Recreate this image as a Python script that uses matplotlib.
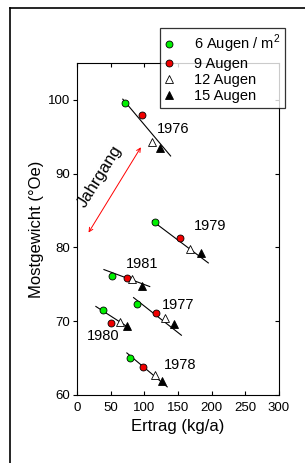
import matplotlib
matplotlib.use("Agg")
import matplotlib.pyplot as plt
from matplotlib.lines import Line2D

plt.rcParams['font.family'] = ['Liberation Sans', 'DejaVu Sans']
plt.rcParams['mathtext.fontset'] = 'custom'
plt.rcParams['mathtext.rm'] = 'Liberation Sans'

# Jahrgaenge und Messwerte (Ertrag kg/a, Mostgewicht Oe)
years = ['1976', '1977', '1978', '1979', '1980', '1981']
ertrag_6 = [71, 89, 78, 116, 38, 52]
most_6 = [99.6, 72.4, 65.0, 83.4, 71.5, 76.1]
ertrag_9 = [96, 117, 98, 153, 51, 74]
most_9 = [97.9, 71.1, 63.8, 81.3, 69.8, 75.9]
ertrag_12 = [112, 131, 116, 168, 64, 82]
most_12 = [94.3, 70.5, 62.7, 79.8, 69.9, 75.7]
ertrag_15 = [123, 144, 126, 184, 74, 96]
most_15 = [93.5, 69.6, 61.9, 79.3, 69.3, 74.8]

# Regressionsgeraden: Anfang und Ende
line_x0 = [68, 84, 74, 112, 28, 40]
line_x1 = [139, 155, 134, 195, 79, 108]
line_y0 = [100.1, 73.2, 65.7, 83.6, 72.0, 77.0]
line_y1 = [92.4, 68.1, 61.1, 77.9, 69.0, 74.7]

# Beschriftung der Jahrgaenge
label_x = [142, 150, 153, 197, 39, 96]
label_y = [96.0, 72.2, 64.0, 82.9, 68.0, 77.7]

legend_labels = ['6 Augen / m$^2$', '9 Augen', '12 Augen', '15 Augen']

fig = plt.figure(figsize=(3.05, 4.63), dpi=100)
ax = fig.add_axes([0.2525, 0.1469, 0.6623, 0.717])

for i in range(len(years)):
    ax.plot([line_x0[i], line_x1[i]], [line_y0[i], line_y1[i]], color='black', lw=0.8, zorder=2)
    ax.text(label_x[i], label_y[i], years[i], fontsize=10.5, ha='center', va='center')

ms = 5
h1, = ax.plot(ertrag_6, most_6, 'o', ls='none', mfc='#00f000', mec='black', mew=0.6, ms=ms, zorder=3)
h2, = ax.plot(ertrag_9, most_9, 'o', ls='none', mfc='#f00000', mec='black', mew=0.6, ms=ms, zorder=3)
h3, = ax.plot(ertrag_12, most_12, '^', ls='none', mfc='white', mec='black', mew=0.6, ms=ms + 0.5, zorder=3)
h4, = ax.plot(ertrag_15, most_15, '^', ls='none', mfc='black', mec='black', mew=0.6, ms=ms + 0.5, zorder=3)

ax.annotate('', xy=(15, 81.7), xytext=(97, 93.9),
            arrowprops=dict(arrowstyle='<->', color='red', lw=0.7, mutation_scale=7))
ax.text(34, 89.6, 'Jahrgang', rotation=58, fontsize=12, ha='center', va='center')

ax.set_xlim(0, 300)
ax.set_ylim(60, 105)
ax.set_xticks(range(0, 301, 50))
ax.set_yticks(range(60, 101, 10))
ax.tick_params(axis='x', direction='in', top=True, length=3, width=0.8, labelsize=9.5, pad=5)
ax.tick_params(axis='y', direction='out', length=3, width=0.8, labelsize=9.5, pad=2)
ax.tick_params(axis='y', which='major', right=True)
for t in ax.yaxis.get_major_ticks():
    t.tick2line.set_marker(matplotlib.markers.TICKLEFT)
for s in ax.spines.values():
    s.set_linewidth(0.8)
ax.set_xlabel('Ertrag (kg/a)', fontsize=12, labelpad=4)
ax.set_ylabel('Mostgewicht (°Oe)', fontsize=12, labelpad=3)

leg = fig.legend([h1, h2, h3, h4], legend_labels, loc='upper left',
                 bbox_to_anchor=(0.5246, 0.9395), bbox_transform=fig.transFigure,
                 fontsize=10.5, frameon=True, fancybox=False, borderaxespad=0,
                 borderpad=0.35, handlelength=0.6, handletextpad=1.35,
                 labelspacing=0.12, numpoints=1)
leg.get_frame().set_edgecolor('black')
leg.get_frame().set_linewidth(0.9)

# aeusserer Rahmen
fig.add_artist(Line2D([9.5 / 305, 9.5 / 305], [0, 1 - 7.5 / 463], color='black', lw=1.2, transform=fig.transFigure))
fig.add_artist(Line2D([9.5 / 305, 1], [1 - 7.5 / 463, 1 - 7.5 / 463], color='black', lw=1.2, transform=fig.transFigure))

fig.savefig('out.png', dpi=100)
